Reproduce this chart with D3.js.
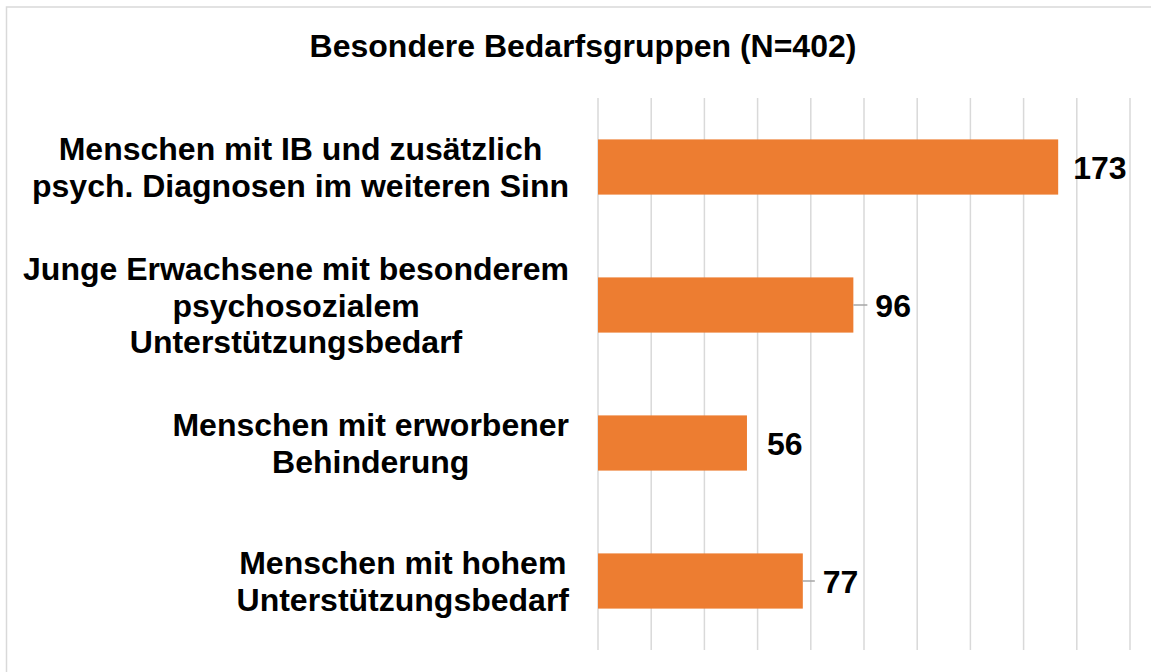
<!DOCTYPE html>
<html>
<head>
<meta charset="utf-8">
<script src="https://cdn.jsdelivr.net/npm/d3@7"></script>
<style>
  body { margin: 0; background: #fff; }
  svg { display: block; font-family: "Liberation Sans", Arial, sans-serif; }
</style>
</head>
<body>
<div class="chart"></div>
<script>
const title = 'Besondere Bedarfsgruppen (N=402)'
const categories = [
  ['Menschen mit IB und zusätzlich', 'psych. Diagnosen im weiteren Sinn'],
  ['Junge Erwachsene mit besonderem', 'psychosozialem', 'Unterstützungsbedarf'],
  ['Menschen mit erworbener', 'Behinderung'],
  ['Menschen mit hohem', 'Unterstützungsbedarf']
]
const values = [173, 96, 56, 77]
const xTicks = [0, 20, 40, 60, 80, 100, 120, 140, 160, 180, 200]
// label offsets from bar end (Excel moved some labels, with leader lines)
const labelGap = [15, 22, 20, 20]
const leader = [false, true, false, true]

const width = 1151
const height = 672
const plotLeft = 598, plotRight = 1130, plotTop = 98, plotBottom = 650
const fontSize = 32

const svg = d3.select('.chart')
  .append('svg')
  .attr('width', width)
  .attr('height', height)

// frame
svg.append('rect')
  .attr('x', 6.5).attr('y', 7)
  .attr('width', 1170).attr('height', 700)
  .attr('fill', 'none')
  .attr('stroke', '#d9d9d9')
  .attr('stroke-width', 1.5)

svg.append('text')
  .attr('x', 583)
  .attr('y', 57)
  .attr('text-anchor', 'middle')
  .attr('font-size', fontSize)
  .attr('font-weight', 'bold')
  .text(title)

const x = d3.scaleLinear().domain([0, 200]).range([plotLeft, plotRight])
const y = d3.scaleBand()
  .domain(d3.range(values.length))
  .range([plotTop, plotBottom])
  .paddingInner(0.6)
  .paddingOuter(0.3)

// gridlines
svg.append('g')
  .selectAll('line')
  .data(xTicks)
  .enter()
  .append('line')
  .attr('x1', d => x(d)).attr('x2', d => x(d))
  .attr('y1', plotTop).attr('y2', plotBottom)
  .attr('stroke', '#d9d9d9')
  .attr('stroke-width', 1.5)

// bars
svg.append('g')
  .selectAll('rect')
  .data(values)
  .enter()
  .append('rect')
  .attr('x', x(0))
  .attr('y', (d, i) => y(i))
  .attr('width', d => x(d) - x(0))
  .attr('height', y.bandwidth())
  .attr('fill', '#ed7d31')

const mid = i => y(i) + y.bandwidth() / 2

// leader lines
const withLeader = d3.range(values.length).filter(i => leader[i])
svg.append('g')
  .selectAll('line')
  .data(withLeader)
  .enter()
  .append('line')
  .attr('x1', i => x(values[i]))
  .attr('x2', i => x(values[i]) + labelGap[i] - 8)
  .attr('y1', i => mid(i))
  .attr('y2', i => mid(i))
  .attr('stroke', '#a6a6a6')
  .attr('stroke-width', 1.5)

// value labels
svg.append('g')
  .selectAll('text')
  .data(values)
  .enter()
  .append('text')
  .attr('x', (d, i) => x(d) + labelGap[i])
  .attr('y', (d, i) => mid(i))
  .attr('dy', '0.36em')
  .attr('font-size', fontSize)
  .attr('font-weight', 'bold')
  .text(d => d)

// category labels: lines centred within a block, block right-aligned at 569
const lineH = 36.5
const labelRight = 569
const cat = svg.append('g')
  .selectAll('text')
  .data(categories)
  .enter()
  .append('text')
  .attr('text-anchor', 'middle')
  .attr('font-size', fontSize)
  .attr('font-weight', 'bold')

cat.each(function(lines, i) {
  const t = d3.select(this)
  const spans = lines.map((line, j) => t.append('tspan')
    .attr('y', mid(i) + (j - (lines.length - 1) / 2) * lineH)
    .attr('dy', '0.36em')
    .text(line))
  const maxW = d3.max(spans, s => s.node().getComputedTextLength())
  spans.forEach(s => s.attr('x', labelRight - maxW / 2))
})
</script>
</body>
</html>
